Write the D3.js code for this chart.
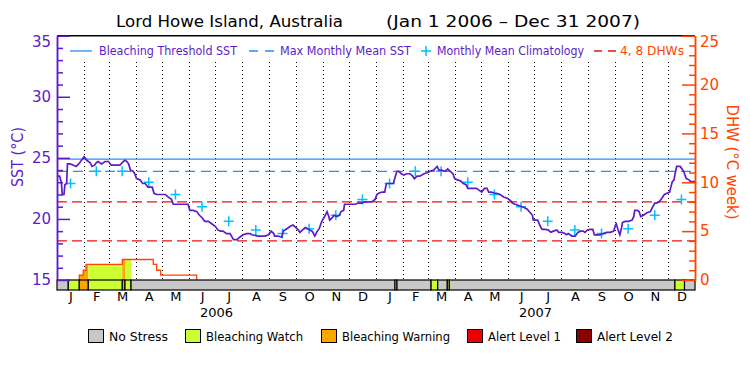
<!DOCTYPE html>
<html>
<head>
<meta charset="utf-8">
<script src="https://cdn.jsdelivr.net/npm/d3@7"></script>
<style>
body { margin: 0; background: #fff; }
text { font-family: "DejaVu Sans", sans-serif; }
</style>
</head>
<body>
<script>
// daily SST, [days since Jan 1 2006, deg C]
var SST_2006 = [
    [0, 23.5], [3, 23.5], [5, 23.0], [6, 22.0], [8, 22.0], [9, 22.8], [11, 22.9], [12, 24.5], [15, 24.5],
    [19, 24.4], [22, 24.3], [26, 24.6], [31, 25.1], [34, 24.8], [38, 24.6], [40, 24.3], [43, 24.4],
    [45, 24.6], [47, 24.7], [51, 24.5], [55, 24.7], [59, 24.7], [62, 24.4], [66, 24.4], [72, 24.4],
    [76, 24.7], [78, 24.8], [80, 24.7], [82, 24.5], [84, 24.0], [87, 23.9], [89, 23.7], [91, 23.3],
    [95, 23.2], [98, 22.9], [101, 22.9], [104, 22.6], [106, 22.6], [109, 22.6], [111, 22.1], [114, 22.0],
    [119, 22.0], [124, 22.0], [127, 21.8], [131, 21.6], [133, 21.2], [141, 21.2], [150, 21.2], [152, 20.7],
    [156, 20.7], [160, 20.6], [163, 20.3], [166, 20.1], [169, 19.8], [173, 19.8], [177, 19.6], [181, 19.4],
    [184, 19.1], [187, 19.0], [190, 19.0], [194, 18.8], [198, 18.8], [202, 18.3], [206, 18.3], [209, 18.5],
    [213, 18.7], [217, 18.8], [221, 18.8], [223, 18.7], [230, 18.6], [238, 18.6], [242, 18.7], [245, 19.0],
    [248, 18.8], [249, 18.6], [253, 18.6], [257, 18.5], [259, 19.0], [263, 19.2], [267, 19.4], [270, 19.5],
    [273, 19.3], [276, 19.1], [278, 18.9], [281, 19.1], [284, 19.3], [287, 19.2], [289, 19.1], [292, 19.0],
    [295, 18.6], [297, 18.9], [300, 19.2], [303, 19.8], [307, 20.3], [309, 20.6], [311, 20.2], [312, 19.9],
    [315, 20.1], [317, 20.3], [320, 20.2], [323, 20.3], [325, 20.6], [328, 20.7], [329, 21.2], [333, 21.2],
    [341, 21.2], [345, 21.3], [349, 21.3], [352, 21.4], [356, 21.4], [360, 21.4], [364, 21.6]
];
var SST_2007 = [
    [366, 22.0], [368, 22.1], [372, 22.2], [375, 22.2], [376, 22.6], [377, 22.9], [381, 22.9], [385, 22.9],
    [386, 23.2], [388, 23.7], [389, 23.9], [391, 23.9], [394, 23.7], [397, 23.6], [400, 23.7], [404, 23.7],
    [407, 23.5], [409, 23.3], [412, 23.5], [415, 23.5], [420, 23.7], [424, 23.8], [427, 23.9], [431, 24.0],
    [435, 24.3], [437, 24.0], [440, 24.0], [444, 23.9], [447, 24.1], [450, 23.9], [453, 23.7], [455, 23.3],
    [458, 23.2], [462, 23.1], [465, 22.9], [468, 22.8], [470, 22.5], [480, 22.5], [484, 22.3], [486, 22.2],
    [489, 22.5], [492, 22.5], [494, 22.2], [497, 22.2], [501, 22.1], [503, 22.1], [507, 22.0], [511, 21.8],
    [515, 21.7], [519, 21.5], [521, 21.3], [524, 21.2], [528, 21.1], [532, 21.0], [534, 20.95], [538, 20.8],
    [544, 20.3], [545, 19.9], [550, 19.9], [553, 19.4], [555, 19.15], [558, 19.15], [562, 19.1], [565, 18.9],
    [568, 19.0], [572, 19.1], [574, 18.9], [578, 18.9], [581, 18.8], [583, 18.7], [585, 18.8], [587, 18.7],
    [589, 18.6], [593, 18.6], [596, 18.9], [599, 19.0], [602, 19.0], [604, 18.9], [607, 19.1], [610, 19.15],
    [613, 19.15], [615, 18.7], [621, 18.7], [625, 18.8], [629, 18.9], [633, 18.9], [637, 19.0], [639, 19.5],
    [640, 19.6], [642, 19.1], [644, 18.7], [646, 19.3], [647, 19.7], [650, 19.8], [654, 19.8], [658, 19.9],
    [660, 20.2], [661, 20.7], [664, 20.7], [666, 20.6], [668, 20.2], [671, 20.3], [675, 20.5], [679, 20.6],
    [681, 20.9], [684, 21.3], [686, 21.3], [689, 21.4], [691, 21.6], [693, 21.8], [695, 22.0], [698, 22.1],
    [701, 22.2], [702, 22.5], [704, 23.05], [706, 23.2], [707, 23.6], [709, 24.3], [713, 24.3], [715, 24.1],
    [717, 23.9], [720, 23.3], [723, 23.2], [725, 23.05], [730, 23.05]
];
// monthly mean climatology, Jan..Dec
var CLIMATOLOGY = [22.9, 23.9, 23.9, 23.0, 22.0, 21.0, 19.8, 19.1, 18.8, 19.2, 20.3, 21.6];
var MMM = 23.9;
var THRESHOLD = 24.9;
var DHW_LEVELS = [4, 8];
// degree heating weeks, step changes [day, DHW]
var DHW = [[25.5, 0], [25.5, 0.5], [30, 1.0], [33.2, 1.6], [74.7, 2.1], [110.2, 1.6], [114, 1.0],
    [118.6, 0.5], [159.8, 0]];
// stress level periods [startDay, endDay, level]
var STRESS = [
    [0, 12.9, 0], [12.9, 25.5, 1], [25.5, 35.8, 2], [35.8, 74.7, 1], [74.7, 77.8, 2], [77.8, 84.7, 1],
    [84.7, 386.7, 0], [386.7, 389, 1], [389, 428, 0], [428, 435.6, 1], [435.6, 446.6, 0],
    [446.6, 448.9, 1], [448.9, 707, 0], [707, 718, 1], [718, 730, 0]
];
var STRESS_NAMES = ["No Stress", "Bleaching Watch", "Bleaching Warning", "Alert Level 1", "Alert Level 2"];
var YEARS = [2006, 2007];

var PURPLE = "#5c1cc8", ORANGE = "#ff4400", BLUE = "#2090ff", CYAN = "#00c0ff", RED = "#ee1111";
var STRESS_COLORS = ["#c8c8c8", "#ccff33", "#ffa500", "#ee0000", "#8b0000"];
var M = {left: 57, right: 695, top: 35.7, bottom: 280};

var svg = d3.select("body").append("svg")
    .attr("width", 750)
    .attr("height", 375);

function day(d) {
    return new Date(Date.UTC(2006, 0, 1) + d * 864e5);
}

// scales
var x = d3.scaleUtc().domain([day(0), day(730)]).range([M.left, M.right]);
var ySst = d3.scaleLinear().domain([15, 35]).range([M.bottom, M.top]);
var yDhw = d3.scaleLinear().domain([0, 25]).range([M.bottom, M.top]);

// title
svg.append("text").attr("x", 116).attr("y", 27).attr("font-size", 16)
    .attr("textLength", 227).attr("lengthAdjust", "spacingAndGlyphs")
    .text("Lord Howe Island, Australia");
svg.append("text").attr("x", 386).attr("y", 27).attr("font-size", 16)
    .attr("textLength", 254).attr("lengthAdjust", "spacingAndGlyphs")
    .text("(Jan 1 2006 \u2013 Dec 31 2007)");

// dotted month lines (below the legend row)
var monthStarts = d3.utcMonths(day(1), day(730));
svg.append("g").selectAll("line").data(monthStarts).enter().append("line")
    .attr("x1", function (d) { return Math.round(x(d)) + 0.5; })
    .attr("x2", function (d) { return Math.round(x(d)) + 0.5; })
    .attr("y1", 62).attr("y2", M.bottom)
    .attr("stroke", "#000").attr("stroke-dasharray", "1,3");

// DHW fill coloured by stress
var dhwArea = d3.area().curve(d3.curveStepAfter)
    .x(function (d) { return x(day(d[0])); })
    .y0(M.bottom)
    .y1(function (d) { return yDhw(d[1]); });
svg.append("clipPath").attr("id", "dhwclip").append("path").attr("d", dhwArea(DHW));
svg.append("g").attr("clip-path", "url(#dhwclip)")
    .selectAll("rect").data(STRESS.filter(function (s) { return s[2] > 0; })).enter().append("rect")
    .attr("x", function (s) { return x(day(s[0])); })
    .attr("width", function (s) { return x(day(s[1])) - x(day(s[0])); })
    .attr("y", M.top).attr("height", M.bottom - M.top)
    .attr("fill", function (s) { return STRESS_COLORS[s[2]]; });

// DHW line
var dhwLine = d3.line().curve(d3.curveStepAfter)
    .x(function (d) { return x(day(d[0])); })
    .y(function (d) { return yDhw(d[1]); });
svg.append("path").attr("d", dhwLine(DHW))
    .attr("fill", "none").attr("stroke", ORANGE).attr("stroke-width", 1.3);

// threshold lines
svg.append("g").selectAll("line").data(DHW_LEVELS).enter().append("line")
    .attr("x1", M.left).attr("x2", M.right)
    .attr("y1", function (d) { return yDhw(d); }).attr("y2", function (d) { return yDhw(d); })
    .attr("stroke", RED).attr("stroke-width", 1.3).attr("stroke-dasharray", "10,5");
svg.append("line").attr("x1", M.left).attr("x2", M.right)
    .attr("y1", ySst(MMM)).attr("y2", ySst(MMM))
    .attr("stroke", BLUE).attr("stroke-width", 1.3).attr("stroke-dasharray", "10,6");
svg.append("line").attr("x1", M.left).attr("x2", M.right)
    .attr("y1", ySst(THRESHOLD)).attr("y2", ySst(THRESHOLD))
    .attr("stroke", BLUE).attr("stroke-width", 1.3);

// climatology crosses
var clim = [];
YEARS.forEach(function (yr) {
    CLIMATOLOGY.forEach(function (v, m) {
        var a = Date.UTC(yr, m, 1), b = Date.UTC(yr, m + 1, 1);
        clim.push([new Date((a + b) / 2), v]);
    });
});
svg.append("g").selectAll("path").data(clim).enter().append("path")
    .attr("transform", function (d) { return "translate(" + x(d[0]) + "," + ySst(d[1]) + ")"; })
    .attr("d", "M-5,0H5M0,-5V5")
    .attr("stroke", CYAN).attr("stroke-width", 1.5);

// SST line
var sstLine = d3.line()
    .x(function (d) { return x(day(d[0])); })
    .y(function (d) { return ySst(d[1]); });
svg.append("path").attr("d", sstLine(SST_2006.concat(SST_2007)))
    .attr("fill", "none").attr("stroke", PURPLE).attr("stroke-width", 1.7);

// stress bar
svg.append("g").selectAll("rect").data(STRESS).enter().append("rect")
    .attr("x", function (s) { return x(day(s[0])); })
    .attr("width", function (s) { return x(day(s[1])) - x(day(s[0])); })
    .attr("y", M.bottom).attr("height", 10)
    .attr("fill", function (s) { return STRESS_COLORS[s[2]]; })
    .attr("stroke", "#000").attr("stroke-width", 1.2);

// top frame
svg.append("line").attr("x1", M.left).attr("x2", M.right).attr("y1", M.top).attr("y2", M.top)
    .attr("stroke", "#000").attr("stroke-width", 1.5);

// axes
function styleAxis(g, col) {
    g.selectAll("path").attr("stroke", col).attr("stroke-width", 1.5);
    g.selectAll("line").attr("stroke", col).attr("stroke-width", 1.5);
    g.selectAll("text").attr("fill", col).attr("font-size", 15)
        .attr("font-family", "DejaVu Sans, sans-serif");
}
var leftMinor = svg.append("g").attr("transform", "translate(" + M.left + ",0)")
    .call(d3.axisLeft(ySst).tickValues(d3.range(16, 35).filter(function (v) { return v % 5; }))
        .tickSizeInner(-6).tickSizeOuter(0).tickFormat(""));
styleAxis(leftMinor, PURPLE);
var leftMajor = svg.append("g").attr("transform", "translate(" + M.left + ",0)")
    .call(d3.axisLeft(ySst).tickValues([15, 20, 25, 30, 35])
        .tickSizeInner(-13).tickSizeOuter(0).tickPadding(6));
styleAxis(leftMajor, PURPLE);
leftMajor.selectAll("text").filter(function (d) { return d === 35; }).attr("y", 6);

var rightMinor = svg.append("g").attr("transform", "translate(" + M.right + ",0)")
    .call(d3.axisRight(yDhw).tickValues(d3.range(1, 25).filter(function (v) { return v % 5; }))
        .tickSizeInner(-6).tickSizeOuter(0).tickFormat(""));
styleAxis(rightMinor, ORANGE);
var rightMajor = svg.append("g").attr("transform", "translate(" + M.right + ",0)")
    .call(d3.axisRight(yDhw).tickValues([0, 5, 10, 15, 20, 25])
        .tickSizeInner(-13).tickSizeOuter(0).tickPadding(5));
styleAxis(rightMajor, ORANGE);
rightMajor.selectAll("text").filter(function (d) { return d === 25; }).attr("y", 6);

// axis titles
svg.append("text").attr("transform", "translate(23,157) rotate(-90)")
    .attr("text-anchor", "middle").attr("font-size", 15).attr("fill", PURPLE)
    .attr("textLength", 60).attr("lengthAdjust", "spacingAndGlyphs")
    .text("SST (\u00B0C)");
svg.append("text").attr("transform", "translate(727,162) rotate(90)")
    .attr("text-anchor", "middle").attr("font-size", 15).attr("fill", ORANGE)
    .attr("textLength", 115).attr("lengthAdjust", "spacingAndGlyphs")
    .text("DHW (\u00B0C week)");

// month and year labels
var midMonths = d3.utcMonths(day(0), day(730)).map(function (d) {
    return new Date((d.getTime() + d3.utcMonth.offset(d, 1).getTime()) / 2);
});
var monthAxis = svg.append("g").attr("transform", "translate(0,290)")
    .call(d3.axisBottom(x).tickValues(midMonths).tickSize(0).tickPadding(2)
        .tickFormat(function (d) { return d3.utcFormat("%b")(d).charAt(0); }));
monthAxis.select(".domain").remove();
monthAxis.selectAll("text").attr("font-size", 13).attr("fill", "#000");
var yearAxis = svg.append("g").attr("transform", "translate(0,306)")
    .call(d3.axisBottom(x).tickValues(YEARS.map(function (yr) { return new Date(Date.UTC(yr, 6, 2)); }))
        .tickSize(0).tickPadding(2).tickFormat(d3.utcFormat("%Y")));
yearAxis.select(".domain").remove();
yearAxis.selectAll("text").attr("font-size", 13).attr("fill", "#000");

// top legend
var lg = svg.append("g");
lg.append("line").attr("x1", 70).attr("x2", 92).attr("y1", 51).attr("y2", 51)
    .attr("stroke", BLUE).attr("stroke-width", 1.3);
lg.append("text").attr("x", 99).attr("y", 55).attr("font-size", 11.5).attr("fill", PURPLE)
    .attr("textLength", 138).attr("lengthAdjust", "spacingAndGlyphs").text("Bleaching Threshold SST");
lg.append("line").attr("x1", 249).attr("x2", 274).attr("y1", 51).attr("y2", 51)
    .attr("stroke", BLUE).attr("stroke-width", 1.3).attr("stroke-dasharray", "9,7");
lg.append("text").attr("x", 280).attr("y", 55).attr("font-size", 11.5).attr("fill", PURPLE)
    .attr("textLength", 131).attr("lengthAdjust", "spacingAndGlyphs").text("Max Monthly Mean SST");
lg.append("path").attr("d", "M421,51H431M426,46V56").attr("stroke", CYAN).attr("stroke-width", 1.5);
lg.append("text").attr("x", 437).attr("y", 55).attr("font-size", 11.5).attr("fill", PURPLE)
    .attr("textLength", 147).attr("lengthAdjust", "spacingAndGlyphs").text("Monthly Mean Climatology");
lg.append("line").attr("x1", 594).attr("x2", 616).attr("y1", 51).attr("y2", 51)
    .attr("stroke", RED).attr("stroke-width", 1.3).attr("stroke-dasharray", "8,6");
lg.append("text").attr("x", 620).attr("y", 55).attr("font-size", 11.5).attr("fill", ORANGE)
    .attr("textLength", 64).attr("lengthAdjust", "spacingAndGlyphs").text("4, 8 DHWs");

// stress legend
var boxX = [88, 185, 321, 467, 576];
var textW = [59, 97, 108, 73, 76];
var sl = svg.append("g").selectAll("g").data(STRESS_NAMES).enter().append("g")
    .attr("transform", function (d, i) { return "translate(" + boxX[i] + ",329)"; });
sl.append("rect").attr("x", 0.5).attr("y", 0.5).attr("width", 15).attr("height", 13)
    .attr("fill", function (d, i) { return STRESS_COLORS[i]; })
    .attr("stroke", "#000").attr("stroke-width", 1);
sl.append("text").attr("x", 21).attr("y", 12).attr("font-size", 12).attr("fill", "#000")
    .attr("textLength", function (d, i) { return textW[i]; }).attr("lengthAdjust", "spacingAndGlyphs")
    .text(function (d) { return d; });
</script>
</body>
</html>
